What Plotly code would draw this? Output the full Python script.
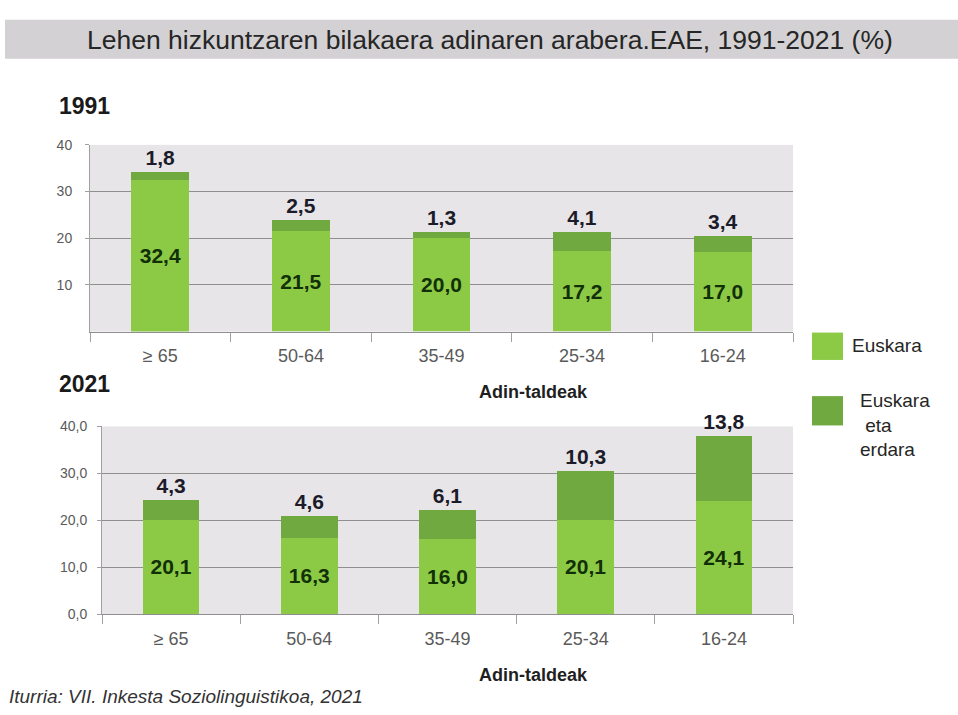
import plotly.graph_objects as go

W, H = 958, 715

age_groups = ["≥ 65", "50-64", "35-49", "25-34", "16-24"]
euskara_1991 = [32.4, 21.5, 20.0, 17.2, 17.0]
mixed_1991 = [1.8, 2.5, 1.3, 4.1, 3.4]
euskara_2021 = [20.1, 16.3, 16.0, 20.1, 24.1]
mixed_2021 = [4.3, 4.6, 6.1, 10.3, 13.8]

LIGHT = "#8cca46"
DARK = "#6fa93f"
PLOT_BG = "#e7e5e7"
GRID = "#8f8f8f"


def px_x(v):
    return v / W


def px_y(v):
    return 1 - v / H


fig = go.Figure()

for eus, mix, xa, ya in [
    (euskara_1991, mixed_1991, "x", "y"),
    (euskara_2021, mixed_2021, "x2", "y2"),
]:
    fig.add_trace(go.Bar(
        x=age_groups, y=eus, xaxis=xa, yaxis=ya,
        marker=dict(color=LIGHT, line=dict(width=0)),
        texttemplate="%{y:.1f}", textposition="inside",
        insidetextanchor="middle", constraintext="none",
        textfont=dict(family="Liberation Sans", size=21, color="#123008", weight="bold"),
        showlegend=False, hoverinfo="skip",
    ))
    fig.add_trace(go.Bar(
        x=age_groups, y=mix, xaxis=xa, yaxis=ya,
        marker=dict(color=DARK, line=dict(width=0)),
        texttemplate="%{y:.1f}", textposition="outside", constraintext="none",
        cliponaxis=False,
        textfont=dict(family="Liberation Sans", size=21, color="#1b1b2a", weight="bold"),
        showlegend=False, hoverinfo="skip",
    ))

axis_x = dict(
    type="category", showgrid=False, showline=True, linecolor=GRID, linewidth=1,
    ticks="outside", tickson="boundaries", ticklen=9, tickcolor="#a0a0a0",
    ticklabelstandoff=8,
    tickfont=dict(family="Liberation Sans", size=18, color="#5a5a5a"),
    fixedrange=True,
)
axis_y = dict(
    range=[0, 40], dtick=10, showgrid=True, gridcolor=GRID, gridwidth=1,
    showline=True, linecolor="#a0a0a0", zeroline=False,
    ticks="outside", ticklen=4, tickcolor="#a0a0a0",
    tickfont=dict(family="Liberation Sans", size=14, color="#5a5a5a"),
    fixedrange=True,
)

fig.update_layout(
    width=W, height=H,
    margin=dict(l=0, r=0, t=0, b=0),
    paper_bgcolor="white",
    plot_bgcolor=PLOT_BG,
    barmode="stack",
    bargap=0.59,
    separators=",.",
    xaxis=dict(axis_x, domain=[px_x(90), px_x(793)], anchor="y"),
    yaxis=dict(axis_y, domain=[px_y(331), px_y(140)], anchor="x",
               tickvals=[10, 20, 30, 40], ticklabelstandoff=10),
    xaxis2=dict(axis_x, domain=[px_x(102), px_x(793)], anchor="y2"),
    yaxis2=dict(axis_y, domain=[px_y(620), px_y(428)], anchor="x2",
                tickformat=".1f", ticklabelstandoff=7),
)

# title band
fig.add_shape(type="rect", xref="paper", yref="paper",
              x0=px_x(5), x1=1, y0=px_y(52), y1=px_y(12),
              fillcolor="#d3d1d3", line=dict(width=0), layer="below")

annos = [
    dict(text="Lehen hizkuntzaren bilakaera adinaren arabera.EAE, 1991-2021 (%)",
         x=490, y=33, size=26.5, color="#262626"),
    dict(text="<b>1991</b>", x=84, y=100, size=23, color="#1a1a1a"),
    dict(text="<b>2021</b>", x=84, y=385, size=23, color="#1a1a1a"),
    dict(text="<b>Adin-taldeak</b>", x=533, y=393, size=18, color="#1f1f1f"),
    dict(text="<b>Adin-taldeak</b>", x=533, y=682, size=18, color="#1f1f1f"),
]
for a in annos:
    fig.add_annotation(
        text=a["text"], x=px_x(a["x"]), y=px_y(a["y"]), xref="paper", yref="paper",
        showarrow=False, xanchor="center", yanchor="middle",
        font=dict(family="Liberation Sans", size=a["size"], color=a["color"]),
    )

# legend text
fig.add_annotation(
    text="Euskara", x=px_x(850), y=px_y(345), xref="paper", yref="paper",
    showarrow=False, xanchor="left", yanchor="middle", align="left",
    font=dict(family="Liberation Sans", size=19, color="#262626"),
)
fig.add_annotation(
    text="Euskara<br>&nbsp;eta<br>erdara", x=px_x(858), y=px_y(427),
    xref="paper", yref="paper", showarrow=False, xanchor="left",
    yanchor="middle", align="left",
    font=dict(family="Liberation Sans", size=19, color="#262626"),
)

fig.add_annotation(
    text="<i>Iturria: VII. Inkesta Soziolinguistikoa, 2021</i>",
    x=px_x(7), y=px_y(704), xref="paper", yref="paper", showarrow=False,
    xanchor="left", yanchor="middle",
    font=dict(family="Liberation Sans", size=19, color="#333333"),
)

# legend swatches
for y0, y1, col in [(332, 360, LIGHT), (397, 427, DARK)]:
    fig.add_shape(type="rect", xref="paper", yref="paper",
                  x0=px_x(812), x1=px_x(843), y0=px_y(y1), y1=px_y(y0),
                  fillcolor=col, line=dict(width=0))

fig.write_html("out.html", config={"displayModeBar": False},
               post_script="document.body.style.margin='0';")
